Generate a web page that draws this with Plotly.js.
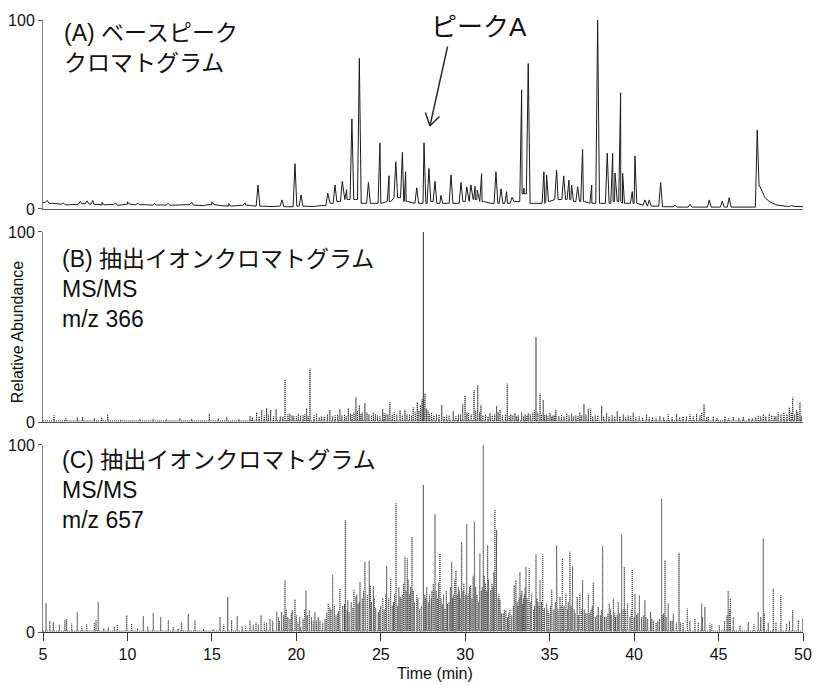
<!DOCTYPE html>
<html>
<head>
<meta charset="utf-8">
<script src="https://cdn.plot.ly/plotly-3.0.1.min.js"></script>
<style>
html,body{margin:0;padding:0;background:#fff;}
#chart{width:816px;height:685px;}
</style>
</head>
<body>
<div id="chart"></div>
<script>
// ---------------- DATA ----------------
const xTickVals = [5, 10, 15, 20, 25, 30, 35, 40, 45, 50];
const yTickVals = [0, 100];

// Panel A: base peak chromatogram — peak apexes (min, relative abundance)
const peakTimesA = [5.25, 6.2, 7.2, 7.6, 7.95, 8.5, 9.3, 10.0, 10.6, 11.6, 12.4, 13.8, 15.0, 16.0, 16.96,
  17.73, 19.15, 19.92, 20.28, 21.86, 22.29, 22.72, 22.98, 23.29, 23.73, 24.27, 24.95, 25.49, 25.89, 26.28, 26.47,
  27.13, 27.56, 27.85, 28.21, 28.56, 29.16, 29.75, 30.09, 30.34, 30.58, 30.71, 30.97, 31.82, 32.12, 32.45, 32.77,
  33.34, 33.48, 33.73, 34.66, 34.82, 35.41, 35.83, 36.14, 36.30, 36.66, 36.95, 37.49, 37.84, 38.41, 38.73, 38.87,
  39.20, 39.32, 39.89, 40.05, 40.64, 40.90, 41.57, 42.42, 43.31, 44.45, 45.22, 45.63, 47.29, 49.33];
const peakHeightsA = [4.5, 3.2, 4, 4.3, 4.5, 3.5, 3.2, 3.8, 3.2, 3, 3, 3.6, 3.8, 2.8, 3.2,
  12.7, 4.8, 24, 7.4, 8.4, 12.7, 14.6, 10.2, 47.6, 79.7, 14, 35, 17.6, 25, 30, 19.7,
  11.2, 35, 21.5, 14.6, 7.2, 18, 14, 11.7, 12.7, 12, 10, 18.7, 19.7, 10.7, 9.2, 6.2,
  63, 11, 77, 19.7, 18, 20.6, 17.5, 15.3, 12.7, 11.8, 31.6, 12.7, 100, 29.5, 29.5, 19,
  61.5, 19, 9.2, 28, 4.8, 4.8, 14, 2, 2.5, 4.8, 4.2, 6, 41.8, 1.8];
// Panel A: baseline / valley level (min, relative abundance)
const baseTimesA = [5.0, 5.6, 6.0, 6.5, 7.0, 7.5, 8.0, 8.5, 9.0, 9.5, 10.0, 10.5, 11.0, 11.5, 12.0, 12.5, 13.0, 13.5,
  14.0, 14.5, 15.0, 15.5, 16.0, 16.5, 17.0, 17.5, 18.0, 18.5, 19.0, 19.5, 20.5, 21.0, 21.5, 22.0, 22.5, 23.0, 23.5,
  24.0, 24.5, 25.0, 25.5, 26.0, 26.5, 27.0, 27.5, 28.0, 28.5, 29.0, 29.5, 30.0, 30.5, 31.0, 31.5, 32.0, 32.5, 33.0,
  33.5, 34.0, 34.5, 35.0, 35.5, 36.0, 36.5, 37.0, 37.5, 38.0, 38.5, 39.0, 39.5, 40.0, 40.5, 41.0, 42.0, 43.0, 44.0,
  45.0, 46.0, 47.0, 47.45, 47.6, 47.75, 48.0, 48.4, 49.0, 50.0];
const baseValsA = [3.5, 3, 2.5, 2.2, 2.5, 2.8, 2.5, 2.2, 2.4, 2, 2.6, 2.2, 2.3, 2, 2.2, 2, 2.1, 2.3,
  2, 1.8, 2.4, 1.8, 1.5, 1.8, 2, 1.5, 1.5, 1.3, 1.5, 1.2, 1.5, 1.3, 1.8, 3, 4, 5, 5,
  3, 3, 3, 4, 6, 4, 3, 3, 4, 3, 3, 3, 4, 5, 4, 3, 3, 3, 4,
  8, 3, 3, 4, 5, 5, 4, 4, 3, 3, 3, 4, 3, 3, 2, 1.5, 1.2, 1, 1,
  1, 1, 1, 12, 8.5, 6, 4, 2.2, 1.4, 1.2];

// Panel B: extracted ion chromatogram MS/MS m/z 366 — spikes (min, relative abundance)
const spikeTimesB = [5.65, 6.36, 7.03, 7.35, 8.04, 8.48, 8.83, 9.6, 10.74, 11.53, 12.3, 13.11, 13.80, 14.85, 15.38,
  15.88, 16.6, 17.26, 17.65, 17.95, 18.24, 18.48, 18.80, 19.05, 19.33, 19.62, 19.85, 20.12, 20.40, 20.61, 20.81,
  21.20, 21.5, 21.99, 22.3, 22.58, 22.85, 23.08, 23.3, 23.53, 23.73, 23.9, 24.06, 24.3, 24.56, 24.8, 25.11, 25.3,
  25.54, 25.8, 26.14, 26.43, 26.7, 26.92, 27.16, 27.36, 27.52, 27.62, 27.8, 28.01, 28.3, 28.61, 28.9, 29.29, 29.6,
  29.85, 29.99, 30.2, 30.52, 30.74, 30.93, 31.2, 31.47, 31.86, 32.06, 32.49, 32.7, 32.95, 33.15, 33.34, 33.55,
  33.73, 34.0, 34.19, 34.43, 34.62, 34.8, 35.02, 35.2, 35.37, 35.7, 36.01, 36.30, 36.55, 36.79, 37.03, 37.29,
  37.43, 37.7, 38.08, 38.37, 38.7, 39.00, 39.36, 39.65, 39.95, 40.3, 40.74, 41.1, 41.53, 42.02, 42.52, 42.9,
  43.31, 43.70, 44.14, 44.4, 44.69, 45.38, 45.87, 46.46, 47.0, 47.35, 47.65, 48.00, 48.3, 48.53, 48.87, 49.19,
  49.39, 49.62, 49.82];
const spikeHeightsB = [3.5, 2, 2.5, 2.7, 2, 2.5, 4, 1.2, 1.5, 1.5, 1.2, 2, 1.5, 4.4, 2,
  2.7, 1.5, 3.2, 5.1, 6.4, 7.3, 6.4, 6.8, 3, 22.4, 4.4, 3, 4.4, 3.5, 7.3, 28,
  4.4, 3, 6.4, 3.5, 6.8, 4, 7.3, 4, 13, 8.8, 5, 10, 4, 5, 3.5, 6.8, 4,
  10.4, 5, 6.4, 6.4, 4, 7.7, 10.4, 8.8, 100, 15, 6, 5, 4, 9, 3.5, 5.8, 4,
  9.5, 14, 5, 16.7, 19.3, 8.8, 4, 4.8, 8.4, 6.4, 20.2, 4, 4.8, 3.5, 5.1, 4,
  4.8, 5, 44.7, 15, 11.6, 4, 4.8, 3.5, 6.4, 4, 4.4, 4.4, 3.5, 5, 9.5, 7,
  7, 3.5, 8.4, 4.8, 3.5, 5.8, 4, 3.5, 5, 3, 4, 2.5, 3, 4, 4.4, 3,
  4, 4.4, 9.3, 3, 3, 3, 2.7, 2.7, 2, 3.5, 4, 4.4, 3, 5, 5, 7.7,
  12.8, 6.4, 10.4];
// Panel B: dense low-level spikes
const minorTimesB = [17.4, 17.8, 18.1, 18.35, 18.65, 19.2, 19.5, 19.75, 20.0, 20.25, 20.5, 20.7, 21.05, 21.35, 21.65,
  21.85, 22.15, 22.45, 22.7, 22.95, 23.2, 23.42, 23.62, 23.82, 24.18, 24.45, 24.68, 24.95, 25.2, 25.42, 25.68, 25.95,
  26.28, 26.55, 26.82, 27.05, 27.26, 27.45, 27.58, 27.7, 27.9, 28.15, 28.45, 28.75, 29.05, 29.45, 29.72, 30.1, 30.35,
  30.62, 30.85, 31.05, 31.35, 31.6, 31.75, 31.95, 32.2, 32.38, 32.6, 32.82, 33.05, 33.45, 33.65, 33.85, 34.1, 34.3,
  34.52, 34.7, 34.9, 35.12, 35.3, 35.55, 35.85, 36.15, 36.42, 36.68, 36.9, 37.15, 37.55, 37.85, 38.2, 38.52, 38.85,
  39.15, 39.5, 39.8, 40.1, 40.5, 40.9, 41.3, 41.75, 42.25, 42.7, 43.1, 43.5, 43.9, 44.0, 44.3, 44.9, 45.6, 46.2,
  46.8, 47.2, 47.5, 47.8, 48.15, 48.4, 48.7, 49.05, 49.3, 49.5, 49.7, 49.9];
const minorHeightsB = [2.5, 3, 3.5, 4, 3, 3, 4, 3.5, 3, 3.5, 4, 3, 3.5, 2.5, 3,
  4, 3, 4, 3.5, 3, 4.5, 5, 6, 4, 5, 3.5, 4, 3, 4.5, 4, 3.5, 4,
  3.5, 4, 3.5, 5, 6, 12, 9, 7, 4, 3.5, 4, 3, 3.5, 3, 4, 5, 4,
  6, 5, 3.5, 3, 3.5, 4, 5, 3.5, 4, 3, 3.5, 3, 3, 3.5, 4, 6, 5,
  4, 3.5, 3, 3, 3.5, 3, 3, 3.5, 3, 3, 3.5, 4, 3, 3.5, 3, 3, 3,
  3, 2.5, 3, 2.5, 2.5, 2.5, 2, 2.5, 2.5, 2.5, 3, 3, 3.5, 5, 2.5, 2, 2, 2,
  2, 2.5, 3, 3, 3.5, 3, 4, 4, 5, 4, 5, 3];

// Panel C: extracted ion chromatogram MS/MS m/z 657 — main spikes (min, relative abundance)
const spikeTimesC = [5.18, 5.4, 5.61, 5.97, 6.30, 6.40, 6.70, 7.03, 7.3, 7.59, 8.04, 8.14, 8.27, 8.6, 8.87, 9.22, 9.40,
  9.96, 10.25, 10.6, 10.94, 11.2, 11.53, 11.97, 12.42, 12.71, 13.0, 13.21, 13.60, 14.00, 14.5, 15.08, 15.48, 15.7,
  15.94, 16.17, 16.50, 16.8, 17.26, 17.61, 17.91, 18.24, 18.44, 18.84, 19.13, 19.33, 19.62, 19.76, 19.92, 20.1,
  20.26, 20.57, 20.77, 21.10, 21.30, 21.56, 21.89, 21.99, 22.15, 22.35, 22.58, 22.90, 23.13, 23.41, 23.53, 23.77,
  24.06, 24.32, 24.56, 24.85, 25.1, 25.35, 25.59, 25.90, 26.14, 26.43, 26.57, 26.70, 26.85, 27.13, 27.3, 27.52,
  27.81, 27.95, 28.11, 28.21, 28.50, 28.80, 28.95, 29.20, 29.45, 29.59, 29.79, 29.95, 30.09, 30.32, 30.54, 30.70,
  30.87, 31.07, 31.33, 31.51, 31.76, 31.86, 32.06, 32.25, 32.41, 32.75, 32.90, 33.00, 33.24, 33.4, 33.60, 33.79,
  33.93, 34.19, 34.43, 34.59, 34.82, 35.12, 35.25, 35.41, 35.61, 35.75, 35.96, 36.20, 36.36, 36.63, 36.79, 36.95,
  37.10, 37.29, 37.58, 37.88, 38.14, 38.35, 38.53, 38.77, 39.06, 39.26, 39.42, 39.62, 39.89, 40.05, 40.31, 40.64,
  40.98, 41.3, 41.63, 41.83, 42.02, 42.32, 42.66, 42.9, 43.15, 43.60, 44.00, 44.19, 44.49, 45.04, 45.35, 45.57,
  45.7, 45.87, 46.27, 46.76, 47.1, 47.35, 47.65, 47.94, 48.24, 48.69, 49.03, 49.39, 49.72, 49.98];
const spikeHeightsC = [15.5, 6, 5.4, 4, 6.3, 7, 4.5, 10.7, 3, 4, 5, 6.3, 16, 2, 2.5, 3, 4,
  9, 4.5, 2, 8.5, 3, 10.2, 8, 6.3, 2.7, 2, 5, 9.6, 6.3, 1.5, 1.5, 8, 4,
  18.7, 6.3, 8.5, 3, 6.3, 5, 9, 5, 7, 11, 10.7, 27.7, 7, 11.6, 17.5, 5,
  2.7, 22.3, 11.6, 10.7, 8, 5, 15.2, 13.4, 30.4, 9, 23.2, 59.8, 10.7, 22.3, 19, 26.8,
  37.5, 38, 24.5, 10.7, 15, 35.2, 28.6, 68.8, 19, 40.2, 39.3, 20, 50.9, 19.6, 12, 78.6,
  16, 14, 25.8, 63, 42, 12.5, 15, 37.5, 33, 24, 48.2, 14, 57.7, 25, 59, 20,
  42, 100, 46.4, 22.3, 65.5, 54.5, 17, 10, 11.6, 9, 25, 27.7, 32, 15, 34.8, 34,
  20.5, 41.6, 27.7, 41.4, 15.2, 22.7, 12, 46.4, 18.8, 39.3, 20.5, 42.9, 35.2, 18.8, 20.5, 27.7,
  10, 20.5, 26.3, 13.4, 45.9, 8, 15.2, 17.9, 16, 52.1, 34.8, 15.2, 33.4, 20.5, 19.6, 17,
  10.7, 5, 71.4, 38.4, 15.2, 9.8, 42.3, 5, 12.5, 7.1, 15.2, 13.4, 4.5, 3.6, 6, 22,
  18, 8, 3.6, 5.4, 4, 10.7, 50, 4.8, 23.2, 19.6, 4.5, 11.6, 6.3, 7.1];
// Panel C: dense minor spikes in the crowded region (min, relative abundance)
const minorTimesC = [17.0, 17.45, 17.75, 18.1, 18.6, 18.95, 19.0, 19.25, 19.4, 19.5, 19.7, 20.0, 20.2, 20.4, 20.5,
  20.65, 20.9, 21.0, 21.2, 21.4, 21.7, 21.8, 22.05, 22.25, 22.45, 22.5, 22.75, 22.85, 23.0, 23.05, 23.25, 23.35,
  23.58, 23.65, 23.72, 23.9, 23.98, 24.1, 24.2, 24.38, 24.45, 24.62, 24.7, 24.92, 25.0, 25.12, 25.2, 25.28, 25.47,
  25.55, 25.68, 25.75, 25.82, 26.0, 26.07, 26.2, 26.27, 26.35, 26.5, 26.62, 26.77, 26.92, 27.0, 27.2, 27.4, 27.6,
  27.65, 27.72, 27.88, 27.99, 28.03, 28.15, 28.28, 28.35, 28.42, 28.57, 28.65, 28.72, 28.88, 29.05, 29.12, 29.25,
  29.3, 29.38, 29.52, 29.65, 29.7, 29.87, 29.92, 30.02, 30.17, 30.25, 30.4, 30.47, 30.58, 30.62, 30.78, 30.83,
  30.95, 31.0, 31.13, 31.2, 31.28, 31.38, 31.42, 31.58, 31.65, 31.7, 31.82, 31.95, 32.0, 32.1, 32.15, 32.32, 32.5,
  32.57, 32.65, 32.85, 33.07, 33.12, 33.18, 33.3, 33.35, 33.45, 33.5, 33.55, 33.66, 33.7, 33.75, 33.85, 33.88,
  34.05, 34.1, 34.25, 34.3, 34.38, 34.52, 34.65, 34.7, 34.9, 34.95, 35.05, 35.15, 35.33, 35.45, 35.5, 35.68, 35.8,
  35.85, 36.05, 36.1, 36.27, 36.32, 36.45, 36.5, 36.7, 36.75, 36.85, 36.88, 37.05, 37.2, 37.38, 37.45, 37.52, 37.7,
  37.8, 38.0, 38.08, 38.25, 38.45, 38.6, 38.65, 38.85, 38.9, 39.0, 39.15, 39.35, 39.5, 39.58, 39.75, 39.83, 40.0,
  40.15, 40.22, 40.45, 40.55, 40.7, 40.8, 41.05, 41.15, 41.4, 41.5, 41.7, 41.75, 41.9, 42.15, 42.25, 42.5, 42.75,
  43.3, 43.8, 44.05, 44.6, 45.5, 45.65, 47.5, 47.7, 48.4, 49.2];
const minorHeightsC = [3, 4, 4, 5, 6, 8, 6, 9, 12, 8, 10, 9, 8, 7, 12,
  9, 8, 6, 6, 6, 7, 10, 12, 14, 10, 11, 14, 15, 12, 17, 16, 13,
  20, 15, 16, 18, 22, 18, 20, 25, 16, 18, 13, 12, 14, 18, 12, 20, 18,
  22, 14, 16, 20, 14, 24, 18, 20, 26, 22, 28, 24, 22, 16, 18, 14, 20,
  18, 24, 20, 18, 22, 20, 22, 18, 26, 18, 15, 20, 22, 16, 24, 18,
  20, 28, 20, 22, 18, 22, 26, 20, 20, 24, 18, 30, 22, 24, 16, 28,
  22, 24, 30, 26, 22, 28, 20, 26, 24, 32, 30, 18, 20, 14, 10, 12, 8,
  10, 12, 14, 16, 14, 18, 20, 22, 18, 20, 24, 18, 16, 22, 14, 16,
  12, 14, 18, 16, 14, 16, 12, 13, 12, 10, 14, 14, 16, 16, 12, 14, 12,
  14, 12, 16, 14, 14, 12, 10, 9, 14, 10, 12, 12, 10, 10, 12, 14, 8,
  9, 9, 12, 8, 10, 12, 9, 10, 8, 9, 10, 12, 12, 10, 8, 12, 8,
  9, 10, 8, 9, 8, 7, 7, 6, 6, 7, 9, 10, 8, 6, 6, 5, 5,
  6, 5, 8, 4, 9, 12, 8, 10, 5, 6];

// ---------------- trace builders ----------------
function nearestBase(t) {
  let best = 0, bd = Infinity;
  for (let i = 0; i < baseTimesA.length; i++) {
    const d = Math.abs(baseTimesA[i] - t);
    if (d < bd) { bd = d; best = i; }
  }
  return baseValsA[best];
}
function buildPeakLine(times, heights, halfWidth) {
  const pts = [];
  for (let i = 0; i < baseTimesA.length; i++) pts.push([baseTimesA[i], baseValsA[i]]);
  for (let i = 0; i < times.length; i++) {
    const t = times[i];
    pts.push([t - halfWidth, nearestBase(t - halfWidth)]);
    pts.push([t, heights[i]]);
    pts.push([t + halfWidth, nearestBase(t + halfWidth)]);
  }
  pts.sort((a, b) => a[0] - b[0]);
  return { x: pts.map(p => p[0]), y: pts.map(p => p[1]) };
}
function buildSpikes(timeLists, heightLists, floor) {
  const items = [];
  timeLists.forEach((ts, k) => ts.forEach((t, i) => items.push([t, heightLists[k][i]])));
  items.sort((a, b) => a[0] - b[0]);
  const x = [5], y = [floor];
  items.forEach(([t, h]) => { x.push(t, t, t); y.push(floor, h, floor); });
  x.push(50); y.push(floor);
  return { x, y };
}

const A = buildPeakLine(peakTimesA, peakHeightsA, 0.11);
const B = buildSpikes([spikeTimesB, minorTimesB], [spikeHeightsB, minorHeightsB], 0.6);
const C = buildSpikes([spikeTimesC, minorTimesC], [spikeHeightsC, minorHeightsC], 0.5);

const FONT = 'Liberation Sans, Arial, "Noto Sans CJK JP", sans-serif';

const traces = [
  { x: A.x, y: A.y, xaxis: 'x3', yaxis: 'y', type: 'scatter', mode: 'lines',
    line: { color: '#1a1a1a', width: 1 }, hoverinfo: 'skip' },
  { x: B.x, y: B.y, xaxis: 'x2', yaxis: 'y2', type: 'scatter', mode: 'lines',
    line: { color: '#222', width: 1, dash: '1px,1px' }, hoverinfo: 'skip' },
  { x: C.x, y: C.y, xaxis: 'x', yaxis: 'y3', type: 'scatter', mode: 'lines',
    line: { color: '#444', width: 1, dash: '1px,1px' }, hoverinfo: 'skip' }
];

const yCommon = {
  range: [0, 100], tickvals: yTickVals, ticks: 'outside', ticklen: 4, tickwidth: 1, tickcolor: '#555',
  showline: true, linecolor: '#888', linewidth: 1, showgrid: false, zeroline: false,
  tickfont: { family: FONT, size: 16, color: '#111' }, fixedrange: true
};
const xHidden = {
  range: [5, 50], showline: true, linecolor: '#555', linewidth: 1, ticks: '', showticklabels: false,
  showgrid: false, zeroline: false, fixedrange: true
};

// arrow tip for the "ピークA" pointer
const arrowTip = { x: 27.91, y: 43.9 };

const layout = {
  width: 816, height: 685,
  margin: { l: 43, r: 13, t: 20, b: 53 },
  paper_bgcolor: '#fff', plot_bgcolor: '#fff',
  showlegend: false,
  font: { family: FONT, color: '#111' },
  xaxis: {
    domain: [0, 1], anchor: 'y3', range: [5, 50], tickvals: xTickVals, ticks: 'outside', ticklen: 8,
    tickwidth: 1, tickcolor: '#333', showline: true, linecolor: '#333', linewidth: 1, showgrid: false,
    zeroline: false, tickfont: { family: FONT, size: 16, color: '#111' }, fixedrange: true
  },
  xaxis2: Object.assign({ domain: [0, 1], anchor: 'y2' }, xHidden),
  xaxis3: Object.assign({ domain: [0, 1], anchor: 'y' }, xHidden),
  yaxis: Object.assign({ domain: [0.6912, 1], anchor: 'x3' }, yCommon),
  yaxis2: Object.assign({ domain: [0.3431, 0.6536], anchor: 'x2' }, yCommon),
  yaxis3: Object.assign({ domain: [0, 0.3056], anchor: 'x' }, yCommon),
  annotations: [
    { text: '(A) ベースピーク<br>クロマトグラム', xref: 'paper', yref: 'paper', x: 0.025, y: 1.004,
      xanchor: 'left', yanchor: 'top', align: 'left', showarrow: false,
      font: { family: FONT, size: 23, color: '#111' } },
    { text: '(B) 抽出イオンクロマトグラム<br>MS/MS<br>m/z 366', xref: 'paper', yref: 'paper', x: 0.022, y: 0.634,
      xanchor: 'left', yanchor: 'top', align: 'left', showarrow: false,
      font: { family: FONT, size: 23, color: '#111' } },
    { text: '(C) 抽出イオンクロマトグラム<br>MS/MS<br>m/z 657', xref: 'paper', yref: 'paper', x: 0.022, y: 0.306,
      xanchor: 'left', yanchor: 'top', align: 'left', showarrow: false,
      font: { family: FONT, size: 23, color: '#111' } },
    { text: 'ピークA', xref: 'paper', yref: 'paper', x: 0.5743, y: 0.9886,
      xanchor: 'center', yanchor: 'middle', showarrow: false,
      font: { family: FONT, size: 26, color: '#111' } },
    { text: '', xref: 'x3', yref: 'y', x: arrowTip.x, y: arrowTip.y, ax: 18, ay: -81,
      showarrow: true, arrowhead: 0, arrowwidth: 1.4, arrowcolor: '#222', standoff: 0 },
    { text: '', xref: 'x3', yref: 'y', x: arrowTip.x, y: arrowTip.y, ax: 11, ay: -11,
      showarrow: true, arrowhead: 0, arrowwidth: 1.4, arrowcolor: '#222', standoff: 0 },
    { text: '', xref: 'x3', yref: 'y', x: arrowTip.x, y: arrowTip.y, ax: -5, ay: -15,
      showarrow: true, arrowhead: 0, arrowwidth: 1.4, arrowcolor: '#222', standoff: 0 },
    { text: 'Relative Abundance', xref: 'paper', yref: 'paper', x: -0.0342, y: 0.49,
      xanchor: 'center', yanchor: 'middle', textangle: -90, showarrow: false,
      font: { family: FONT, size: 16, color: '#111' } },
    { text: 'Time (min)', xref: 'paper', yref: 'paper', x: 0.516, y: -0.068,
      xanchor: 'center', yanchor: 'middle', showarrow: false,
      font: { family: FONT, size: 16, color: '#111' } }
  ]
};

Plotly.newPlot('chart', traces, layout, { displayModeBar: false, staticPlot: true });
</script>
</body>
</html>
